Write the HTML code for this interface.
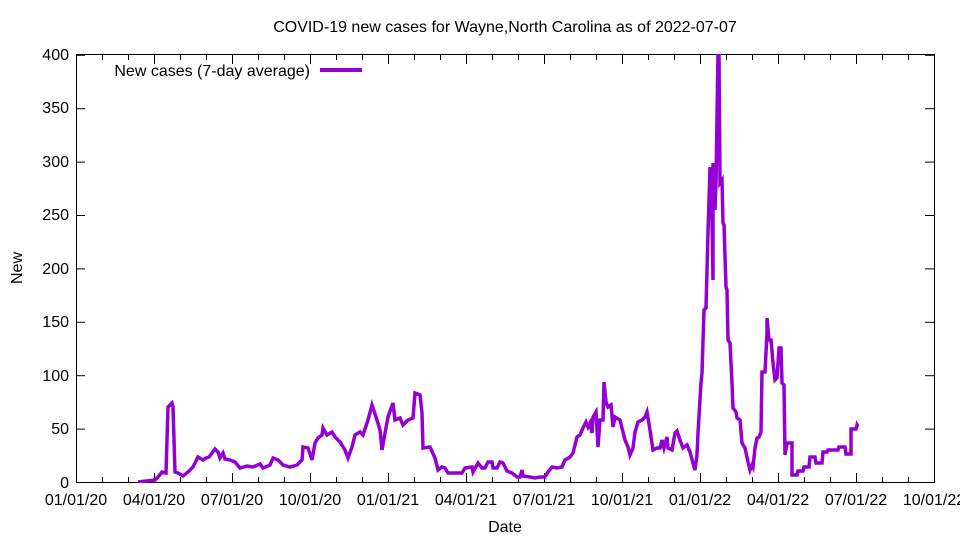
<!DOCTYPE html>
<html><head><meta charset="utf-8"><style>
body{margin:0;background:#fff}
svg{display:block;font-family:"Liberation Sans",sans-serif}
</style></head><body>
<svg width="960" height="540" viewBox="0 0 960 540">
<rect width="960" height="540" fill="#fff"/>
<g id="ticks" stroke="#000" stroke-width="1"></g>
<rect x="76.5" y="54.5" width="858" height="428" fill="none" stroke="#000" stroke-width="1"/>
<g font-size="16" text-anchor="end" fill="#000">
<text x="69" y="488">0</text><text x="69" y="434">50</text><text x="69" y="381">100</text><text x="69" y="327">150</text><text x="69" y="274">200</text><text x="69" y="220">250</text><text x="69" y="167">300</text><text x="69" y="113">350</text><text x="69" y="60">400</text>
</g>
<g font-size="16" text-anchor="middle" fill="#000">
<text x="76" y="505">01/01/20</text><text x="154" y="505">04/01/20</text><text x="232" y="505">07/01/20</text><text x="310" y="505">10/01/20</text><text x="388" y="505">01/01/21</text><text x="466" y="505">04/01/21</text><text x="544" y="505">07/01/21</text><text x="622" y="505">10/01/21</text><text x="700" y="505">01/01/22</text><text x="778" y="505">04/01/22</text><text x="856" y="505">07/01/22</text><text x="934" y="505">10/01/22</text>
<text x="505" y="532">Date</text>
<text x="505" y="32">COVID-19 new cases for Wayne,North Carolina as of 2022-07-07</text>
<text x="0" y="0" transform="translate(22,268) rotate(-90)">New</text>
</g>
<text x="310" y="76" font-size="16" text-anchor="end">New cases (7-day average)</text>
<line x1="320" y1="70" x2="362" y2="70" stroke="#9400d3" stroke-width="4"/>
<clipPath id="c"><rect x="76" y="54" width="859" height="429"/></clipPath>
<polyline clip-path="url(#c)" fill="none" stroke="#9400d3" stroke-width="3.5" stroke-linejoin="miter" points="
138,482 155,480 158,477 162,472 166,473 168,407 172,403 173,407 175,472 178,473 183,476 188,472 193,467 198,457 203,460 206,458 209,457 212,453 215,449 218,452 220,458 223,453 225,459 230,460 235,462 240,468 247,466 253,467 260,464 263,468 270,465 273,458 278,460 283,465 290,467 297,465 302,460 303,447 308,448 312,460 315,443 318,438 322,435 323,428 327,435 332,432 335,437 340,442 345,450 348,458 352,447 355,435 360,432 363,435 368,420 372,405 377,420 380,430 382,450 385,433 388,417 393,403 395,420 400,418 403,425 408,420 413,418 415,393 420,395 422,413 423,448 430,447 435,458 438,470 442,467 445,468 448,473
455,473 462,473 465,468 472,467 473,472 478,463 482,468 485,468 488,462 492,462 493,468 497,468 500,462 503,463 507,471 512,473 517,477 520,477 522,470 523,476 530,477 535,478 540,477 545,477 548,472 552,467 557,468 562,467 565,460 570,457 573,453 577,437 580,435 583,428 586,422 588,427 590,423 592,433 593,417 596,412 598,447 600,420 603,420 604,382 606,402 608,407 611,405 613,427 615,417 620,420 625,440 628,447 630,455 633,448 635,432 638,422 642,420 645,417 647,412 650,430 653,450 657,448 660,448 662,440 664,448 667,437 668,448 672,450 675,433 677,431 680,440 683,448 687,445 690,452 693,463 695,470 697,455
698,433 701,383 702,373 704,310 706,308 708,233 710,167 712,217 713,280 713,163 715,210 716,183 717,117 718,53 719,53 720,183 722,180 723,223 724,225 726,287 727,290 728,340 730,343 732,383 733,408 736,412 737,418 740,420 742,443 745,448 748,462 750,470 752,465 753,467 755,448 757,438 759,437 761,432 762,372 765,372 767,333 767,318 769,340 771,340 773,363 775,380 777,378 779,348 781,348 782,383 784,385 785,455 787,443 792,443 792,475 797,475 798,471 803,471 804,467 809,467 810,457 815,457 816,463 822,463 823,452 827,452 828,450 838,450 839,447 845,447 846,454 851,454 851,429 856,429 857,425 858,427"/>
</svg>
<script>
var g=document.getElementById('ticks'),s='';
for(var i=0;i<=33;i++){var x=76.5+i*26;var L=(i%3==0)?9:5;
s+='<line x1="'+x+'" y1="482" x2="'+x+'" y2="'+(482-L)+'"/><line x1="'+x+'" y1="55" x2="'+x+'" y2="'+(55+L)+'"/>';}
for(var j=0;j<=8;j++){var y=482.5-j*53.4;s+='<line x1="76" y1="'+y+'" x2="85" y2="'+y+'"/><line x1="934" y1="'+y+'" x2="925" y2="'+y+'"/>';}
g.innerHTML=s;
</script>
</body></html>
